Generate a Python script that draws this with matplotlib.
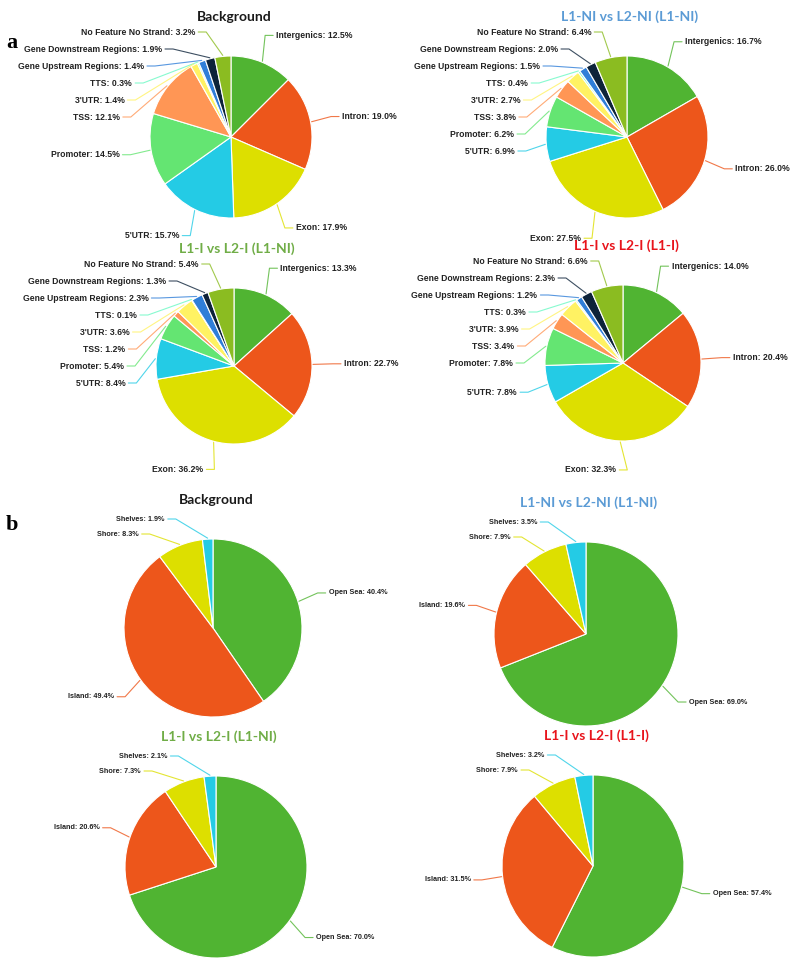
import numpy as np
import matplotlib
matplotlib.use('Agg')
import matplotlib.pyplot as plt

W, H = 800, 963

# panel a: genomic features
features = ['Intergenics', 'Intron', 'Exon', "5'UTR", 'Promoter', 'TSS', "3'UTR", 'TTS',
            'Gene Upstream Regions', 'Gene Downstream Regions', 'No Feature No Strand']
feature_colors = ['#50b432', '#ed561b', '#dddf00', '#24cbe5', '#64e572', '#ff9655',
                  '#fff263', '#6af9c4', '#2f7ed8', '#0d233a', '#8bbc21']
bg_a = [12.5, 19.0, 17.9, 15.7, 14.5, 12.1, 1.4, 0.3, 1.4, 1.9, 3.2]
ni_a = [16.7, 26.0, 27.5, 6.9, 6.2, 3.8, 2.7, 0.4, 1.5, 2.0, 6.4]
i_ni_a = [13.3, 22.7, 36.2, 8.4, 5.4, 1.2, 3.6, 0.1, 2.3, 1.3, 5.4]
i_i_a = [14.0, 20.4, 32.3, 7.8, 7.8, 3.4, 3.9, 0.3, 1.2, 2.3, 6.6]

# panel b: CpG island context
cgi = ['Open Sea', 'Island', 'Shore', 'Shelves']
cgi_colors = ['#50b432', '#ed561b', '#dddf00', '#24cbe5']
bg_b = [40.4, 49.4, 8.3, 1.9]
ni_b = [69.0, 19.6, 7.9, 3.5]
i_ni_b = [70.0, 20.6, 7.3, 2.1]
i_i_b = [57.4, 31.5, 7.9, 3.2]

titles = ['Background', 'L1-NI vs L2-NI (L1-NI)', 'L1-I vs L2-I (L1-NI)', 'L1-I vs L2-I (L1-I)']
title_colors = ['#1a1a1a', '#5b9bd5', '#70ad47', '#e8141c']

fig = plt.figure(figsize=(8, 9.63), dpi=100)
ax = fig.add_axes([0, 0, 1, 1])


def draw_pie(vals, names, colors, cx, cy, r, fs, gap, top_pad, title, tcol):
    # cx, cy in pixels measured from top-left
    ax.pie(vals, colors=colors, center=(cx, H - cy), radius=r, startangle=90,
           counterclock=False, wedgeprops=dict(edgecolor='white', linewidth=0.8))
    ax.text(cx + 3, H - (cy - r - 39), title, ha='center', va='center', fontsize=10,
            fontweight='bold', color=tcol, family='Lato')
    R = r + 29
    total = float(sum(vals))
    cum = 0.0
    items = []
    for v, n, c in zip(vals, names, colors):
        mid = (cum + v / 2) / total * 2 * np.pi
        cum += v
        items.append(dict(mid=mid, ny=cy - R * np.cos(mid), name=n, val=v, col=c,
                          left=np.sin(mid) < 0))
    for side in (True, False):
        grp = sorted([it for it in items if it['left'] == side], key=lambda it: it['ny'])
        prev = None
        for it in grp:
            y = max(it['ny'], cy - r - top_pad)
            if prev is not None:
                y = max(y, prev + gap)
            prev = y
            dx = np.sqrt(max(R ** 2 - (y - cy) ** 2, 0))
            lx = cx - dx if side else cx + dx
            sgn = 1 if side else -1
            ex = cx + (r + 1) * np.sin(it['mid'])
            ey = cy - (r + 1) * np.cos(it['mid'])
            xs = [lx, lx + sgn * 8, ex]
            ys = [H - y, H - y, H - ey]
            ax.plot(xs, ys, color=it['col'], lw=0.8, alpha=0.8, solid_capstyle='round')
            ax.text(lx - sgn * 3, H - y, f"{it['name']}: {it['val']:.1f}%",
                    ha='right' if side else 'left', va='center', fontsize=fs,
                    fontweight='bold', color='#222222', family='Liberation Sans')


layout_a = [(231, 137, 81), (627, 137, 81), (234, 366, 78), (623, 363, 78)]
layout_b = [(213, 628, 89), (586, 634, 92), (216, 867, 91), (593, 866, 91)]

for vals, (cx, cy, r), t, tc in zip([bg_a, ni_a, i_ni_a, i_i_a], layout_a, titles, title_colors):
    draw_pie(vals, features, feature_colors, cx, cy, r, 6.2, 17, 24, t, tc)

for vals, (cx, cy, r), t, tc in zip([bg_b, ni_b, i_ni_b, i_i_b], layout_b, titles, title_colors):
    draw_pie(vals, cgi, cgi_colors, cx, cy, r, 5.2, 15, 20, t, tc)

ax.text(6, H - 43, 'a', fontsize=16, fontweight='bold', family='Liberation Serif', va='center')
ax.text(6, H - 525, 'b', fontsize=16, fontweight='bold', family='Liberation Serif', va='center')

ax.set_xlim(0, W)
ax.set_ylim(0, H)
ax.set_aspect('equal')
ax.axis('off')

fig.savefig('out.png', dpi=100, facecolor='white')
